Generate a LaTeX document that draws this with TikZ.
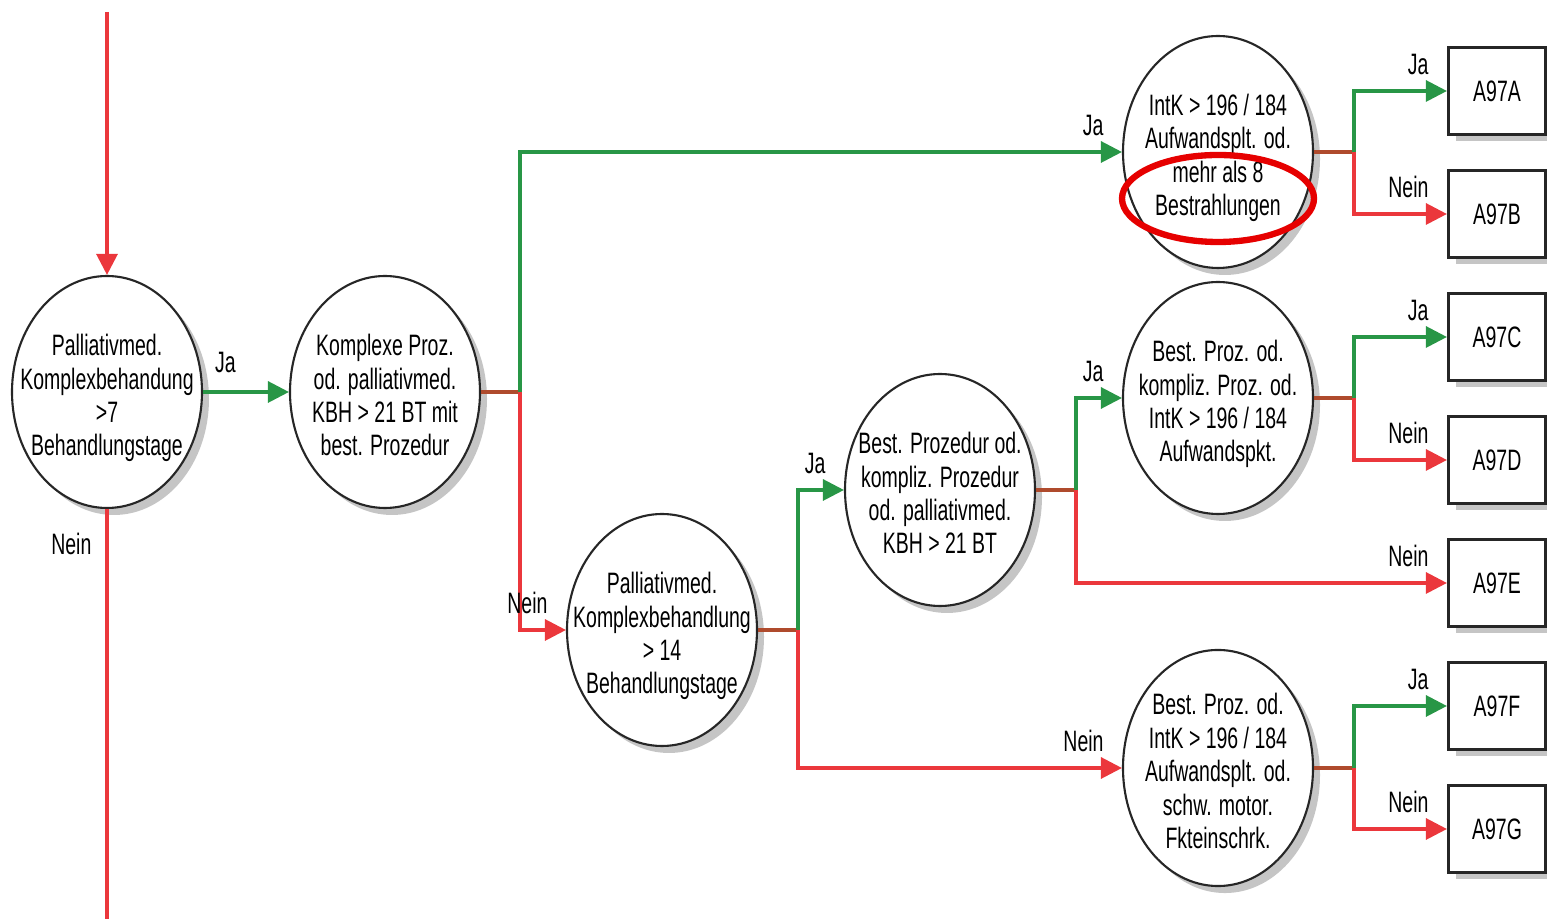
\documentclass[tikz,border=0pt]{standalone}
\usepackage{fontspec}
\setmainfont{Liberation Sans}[FakeStretch=0.66]
\usetikzlibrary{positioning,shapes.geometric,shadows,arrows.meta,calc}

\definecolor{jagreen}{RGB}{40,150,70}
\definecolor{neinred}{RGB}{235,55,60}
\definecolor{stubbrown}{RGB}{175,75,45}
\definecolor{markred}{RGB}{230,0,0}

% text lines set inside a circle without widening it
\newcommand{\inell}[1]{\raisebox{-2pt}[\height][\depth]{\makebox[0pt]{\begin{tabular}{@{}c@{}}#1\end{tabular}}}}

\begin{document}
\begin{tikzpicture}[font=\fontsize{8.4}{9.5}\selectfont]
    \tikzstyle{cond} = [ellipse, draw=black!85, line width=0.6pt, fill=white, minimum width=1.9cm, minimum height=2.32cm, inner sep=0pt, drop shadow={shadow xshift=0.07cm, shadow yshift=-0.07cm, fill=black!45}]
    \tikzstyle{drg} = [rectangle, draw=black!85, line width=0.9pt, fill=white, minimum width=0.97cm, minimum height=0.87cm, drop shadow={shadow xshift=0.07cm, shadow yshift=-0.07cm, fill=black!45}]
    \tikzstyle{ja} = [draw=jagreen, line width=0.9pt, -{Triangle[length=6pt,width=6pt]}]
    \tikzstyle{nein} = [draw=neinred, line width=0.9pt, -{Triangle[length=6pt,width=6pt]}]
    \tikzstyle{stub} = [draw=stubbrown, line width=0.9pt]
    \tikzstyle{lbl} = [inner sep=2pt]

    \useasboundingbox (0,0) rectangle (15.47,-9.19);

    % Nodes
    \node (e1) [cond] at (1.07,-3.92) {\inell{Palliativmed.\\Komplexbehandung\\>7\\Behandlungstage}};
    \node (e2) [cond, right of=e1, node distance=2.78cm] {\inell{Komplexe Proz.\\od. palliativmed.\\KBH > 21 BT mit\\best. Prozedur}};
    \node (e3) [cond] at (6.62,-6.30) {\inell{Palliativmed.\\Komplexbehandlung\\> 14\\Behandlungstage}};
    \node (e4) [cond] at (9.40,-4.90) {\inell{Best. Prozedur od.\\kompliz. Prozedur\\od. palliativmed.\\KBH > 21 BT}};
    \node (e5) [cond] at (12.18,-1.52) {\inell{IntK > 196 / 184\\Aufwandsplt. od.\\mehr als 8\\Bestrahlungen}};
    \node (e6) [cond, below of=e5, node distance=2.46cm] {\inell{Best. Proz. od.\\kompliz. Proz. od.\\IntK > 196 / 184\\Aufwandspkt.}};
    \node (e7) [cond, below of=e6, node distance=3.70cm] {\inell{Best. Proz. od.\\IntK > 196 / 184\\Aufwandsplt. od.\\schw. motor.\\Fkteinschrk.}};

    \node (a97a) [drg] at (14.97,-0.91) {A97A};
    \node (a97b) [drg, below of=a97a, node distance=1.23cm] {A97B};
    \node (a97c) [drg, below of=a97b, node distance=1.23cm] {A97C};
    \node (a97d) [drg, below of=a97c, node distance=1.23cm] {A97D};
    \node (a97e) [drg, below of=a97d, node distance=1.23cm] {A97E};
    \node (a97f) [drg, below of=a97e, node distance=1.23cm] {A97F};
    \node (a97g) [drg, below of=a97f, node distance=1.23cm] {A97G};

    \node (hl) [ellipse, draw=markred, line width=1.8pt, minimum width=1.92cm, minimum height=0.87cm] at ($(e5.center)+(0,-0.465)$) {};

    % Junctions
    \coordinate (top) at (1.07,-0.12);
    \coordinate (bottom) at (1.07,-9.19);
    \coordinate [right=0.39cm of e2.east] (j2);
    \coordinate [right=0.40cm of e3.east] (j3);
    \coordinate [right=0.40cm of e4.east] (j4);
    \coordinate [right=0.40cm of e5.east] (j5);
    \coordinate [right=0.40cm of e6.east] (j6);
    \coordinate [right=0.40cm of e7.east] (j7);

    % Arrows
    \draw [nein] (top) -- (e1);
    \draw [nein, -] (e1) -- node[lbl, pos=0.085, left=2pt] {Nein} (bottom);
    \draw [ja] (e1) -- node[lbl, pos=0.26, above=3pt] {Ja} (e2);

    \draw [stub] (e2.east) -- (j2);
    \draw [ja] (j2) |- node[lbl, at end, above left=2.3pt and 2.8pt] {Ja} (e5.west);
    \draw [nein] (j2) |- node[lbl, at end, above left=2.3pt and 2.8pt] {Nein} (e3.west);

    \draw [stub] (e3.east) -- (j3);
    \draw [ja] (j3) |- node[lbl, at end, above left=2.3pt and 2.8pt] {Ja} (e4.west);
    \draw [nein] (j3) |- node[lbl, at end, above left=2.3pt and 2.8pt] {Nein} (e7.west);

    \draw [stub] (e4.east) -- (j4);
    \draw [ja] (j4) |- node[lbl, at end, above left=2.3pt and 2.8pt] {Ja} (e6.west);
    \draw [nein] (j4) |- node[lbl, at end, above left=2.3pt and 2.8pt] {Nein} (a97e.west);

    \draw [stub] (e5.east) -- (j5);
    \draw [ja] (j5) |- node[lbl, at end, above left=2.3pt and 2.8pt] {Ja} (a97a.west);
    \draw [nein] (j5) |- node[lbl, at end, above left=2.3pt and 2.8pt] {Nein} (a97b.west);

    \draw [stub] (e6.east) -- (j6);
    \draw [ja] (j6) |- node[lbl, at end, above left=2.3pt and 2.8pt] {Ja} (a97c.west);
    \draw [nein] (j6) |- node[lbl, at end, above left=2.3pt and 2.8pt] {Nein} (a97d.west);

    \draw [stub] (e7.east) -- (j7);
    \draw [ja] (j7) |- node[lbl, at end, above left=2.3pt and 2.8pt] {Ja} (a97f.west);
    \draw [nein] (j7) |- node[lbl, at end, above left=2.3pt and 2.8pt] {Nein} (a97g.west);
\end{tikzpicture}
\end{document}
